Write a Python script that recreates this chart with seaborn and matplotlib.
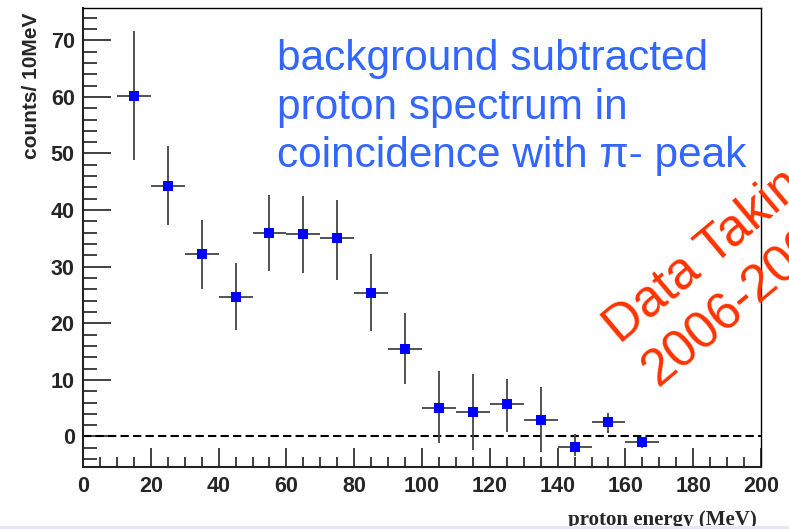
import numpy as np
import pandas as pd
import matplotlib
matplotlib.use("Agg")
import matplotlib.pyplot as plt
import seaborn as sns
from matplotlib.ticker import MultipleLocator
from matplotlib.patches import Rectangle

# ---- data ----
energy = [15, 25, 35, 45, 55, 65, 75, 85, 95, 105, 115, 125, 135, 145, 155, 165]
counts = [60.2, 44.2, 32.2, 24.7, 35.9, 35.7, 35.0, 25.4, 15.5, 5.1, 4.4, 5.7, 3.0, -1.9, 2.5, -0.9]
err_lo = [11.4, 6.9, 6.1, 5.8, 6.6, 6.9, 7.3, 6.8, 6.3, 6.2, 6.7, 4.9, 5.8, 1.6, 1.9, 1.2]
err_hi = [11.5, 7.2, 6.1, 6.0, 6.7, 6.7, 6.7, 6.8, 6.4, 6.4, 6.7, 4.5, 5.7, 2.4, 1.7, 0.8]
bin_half = [5] * len(energy)

x_label = "proton energy (MeV)"
y_label = "counts/ 10MeV"
blue_note = "background subtracted\nproton spectrum in\ncoincidence with \u03c0- peak"
red_line1 = "Data Taking"
red_line2 = "2006-2008"

df = pd.DataFrame({"energy": energy, "counts": counts})

sns.set_style("ticks")
plt.rcParams["font.family"] = ["Liberation Sans", "DejaVu Sans"]

fig = plt.figure(figsize=(7.89, 5.29), dpi=100)
ax = fig.add_axes([83 / 789, 1 - 466.5 / 529, (761 - 83) / 789, (466.5 - 8) / 529])

ax.errorbar(energy, counts, yerr=[err_lo, err_hi], xerr=bin_half, fmt="none",
            ecolor="#444444", elinewidth=1.3, capsize=0, zorder=2)
sns.scatterplot(data=df, x="energy", y="counts", marker="s", s=54, color="#0000ff",
                edgecolor="#0000ff", linewidth=0, ax=ax, zorder=3)

ax.axhline(0, color="black", lw=1.5, ls=(0, (4, 2)), zorder=1)

ax.set_xlim(0, 200)
ax.set_ylim(-5.3, 75.7)
ax.xaxis.set_major_locator(MultipleLocator(20))
ax.xaxis.set_minor_locator(MultipleLocator(5))
ax.yaxis.set_major_locator(MultipleLocator(10))
ax.yaxis.set_minor_locator(MultipleLocator(2))
ax.set_yticks(np.arange(0, 71, 10))
ax.tick_params(axis="both", which="both", direction="in", color="#333333",
               width=1.3, top=False, right=False)
ax.tick_params(axis="y", which="major", length=20, pad=6)
ax.tick_params(axis="y", which="minor", length=10)
ax.tick_params(axis="x", which="major", length=14, pad=7)
ax.tick_params(axis="x", which="minor", length=7)
for lab in ax.get_xticklabels() + ax.get_yticklabels():
    lab.set_fontweight("bold")
    lab.set_fontsize(15.5)
ax.set_xlabel("")
ax.set_ylabel("")
for side in ["left", "bottom"]:
    ax.spines[side].set_linewidth(1.5)
    ax.spines[side].set_color("#222222")
for side in ["top", "right"]:
    ax.spines[side].set_linewidth(1.0)
    ax.spines[side].set_color("black")

fig.text(32 / 789, 1 - 13 / 529, y_label, rotation=90, ha="center", va="top",
         fontsize=15, fontweight="bold")
fig.text(757 / 789, 1 - 525 / 529, x_label, ha="right", va="baseline",
         fontsize=15, fontweight="bold", family=["Liberation Serif", "DejaVu Serif"])

fig.text(277 / 789, 1 - 167.5 / 529, blue_note, ha="left", va="baseline",
         fontsize=30.5, color="#3366ff", linespacing=1.29)

fig.text(620 / 789, 1 - 345 / 529, red_line1, ha="left", va="baseline",
         rotation=40, rotation_mode="anchor", fontsize=37, color="#ff3300")
fig.text(658 / 789, 1 - 388 / 529, red_line2, ha="left", va="baseline",
         rotation=40, rotation_mode="anchor", fontsize=37, color="#ff3300")

fig.add_artist(Rectangle((0, 0), 1, 3 / 529, transform=fig.transFigure,
                         facecolor="#e6e6f6", edgecolor="none", zorder=10))

fig.savefig("out.png", dpi=100)
